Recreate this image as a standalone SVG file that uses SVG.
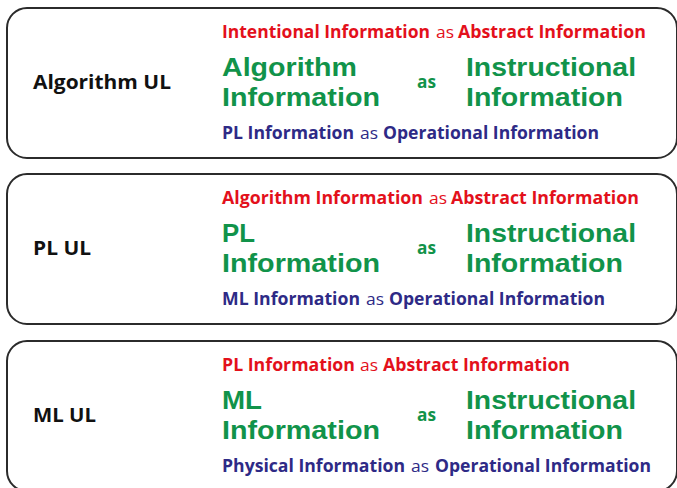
<svg xmlns="http://www.w3.org/2000/svg" width="677" height="488" viewBox="0 0 677 488">
<style>
.box{fill:#fff;stroke:#2b2b2b;stroke-width:2}
text{font-family:"Open Sans","Liberation Sans",sans-serif;font-weight:700}
.lbl{font-size:20px;fill:#111}
.r{font-size:17px;fill:#e3101b}
.b{font-size:17px;fill:#2e2a86}
.g{font-family:"Liberation Sans","Open Sans",sans-serif;font-size:26px;fill:#11934a}
.ga{font-size:18px;fill:#11934a}
.reg{font-weight:400}
</style>
<rect width="677" height="488" fill="#fff"/>
<g id="algorithm-ul">
<rect class="box" x="7" y="8" width="670" height="150" rx="20"/>
<text class="lbl" x="33" y="89" textLength="138" lengthAdjust="spacingAndGlyphs">Algorithm UL</text>
<text class="r" x="222" y="38" textLength="208" lengthAdjust="spacingAndGlyphs">Intentional Information</text>
<text class="r reg" x="436" y="38" textLength="18" lengthAdjust="spacingAndGlyphs">as</text>
<text class="r" x="458" y="38" textLength="188" lengthAdjust="spacingAndGlyphs">Abstract Information</text>
<text class="g" x="222" y="76" textLength="135" lengthAdjust="spacingAndGlyphs">Algorithm</text>
<text class="g" x="222" y="106" textLength="158" lengthAdjust="spacingAndGlyphs">Information</text>
<text class="ga" x="417" y="88" textLength="19" lengthAdjust="spacingAndGlyphs">as</text>
<text class="g" x="466" y="76" textLength="170" lengthAdjust="spacingAndGlyphs">Instructional</text>
<text class="g" x="466" y="106" textLength="157" lengthAdjust="spacingAndGlyphs">Information</text>
<text class="b" x="222" y="139" textLength="132" lengthAdjust="spacingAndGlyphs">PL Information</text>
<text class="b reg" x="360" y="139" textLength="18" lengthAdjust="spacingAndGlyphs">as</text>
<text class="b" x="383" y="139" textLength="216" lengthAdjust="spacingAndGlyphs">Operational Information</text>
</g>
<g id="pl-ul">
<rect class="box" x="7" y="174" width="670" height="150" rx="20"/>
<text class="lbl" x="33" y="255" textLength="58" lengthAdjust="spacingAndGlyphs">PL UL</text>
<text class="r" x="222" y="204" textLength="201" lengthAdjust="spacingAndGlyphs">Algorithm Information</text>
<text class="r reg" x="429" y="204" textLength="18" lengthAdjust="spacingAndGlyphs">as</text>
<text class="r" x="451" y="204" textLength="188" lengthAdjust="spacingAndGlyphs">Abstract Information</text>
<text class="g" x="222" y="242" textLength="33" lengthAdjust="spacingAndGlyphs">PL</text>
<text class="g" x="222" y="272" textLength="158" lengthAdjust="spacingAndGlyphs">Information</text>
<text class="ga" x="417" y="254" textLength="19" lengthAdjust="spacingAndGlyphs">as</text>
<text class="g" x="466" y="242" textLength="170" lengthAdjust="spacingAndGlyphs">Instructional</text>
<text class="g" x="466" y="272" textLength="157" lengthAdjust="spacingAndGlyphs">Information</text>
<text class="b" x="222" y="305" textLength="138" lengthAdjust="spacingAndGlyphs">ML Information</text>
<text class="b reg" x="366" y="305" textLength="18" lengthAdjust="spacingAndGlyphs">as</text>
<text class="b" x="389" y="305" textLength="216" lengthAdjust="spacingAndGlyphs">Operational Information</text>
</g>
<g id="ml-ul">
<rect class="box" x="7" y="341" width="670" height="150" rx="20"/>
<text class="lbl" x="33" y="422" textLength="63" lengthAdjust="spacingAndGlyphs">ML UL</text>
<text class="r" x="222" y="371" textLength="133" lengthAdjust="spacingAndGlyphs">PL Information</text>
<text class="r reg" x="360" y="371" textLength="18" lengthAdjust="spacingAndGlyphs">as</text>
<text class="r" x="383" y="371" textLength="187" lengthAdjust="spacingAndGlyphs">Abstract Information</text>
<text class="g" x="222" y="409" textLength="40" lengthAdjust="spacingAndGlyphs">ML</text>
<text class="g" x="222" y="439" textLength="158" lengthAdjust="spacingAndGlyphs">Information</text>
<text class="ga" x="417" y="421" textLength="19" lengthAdjust="spacingAndGlyphs">as</text>
<text class="g" x="466" y="409" textLength="170" lengthAdjust="spacingAndGlyphs">Instructional</text>
<text class="g" x="466" y="439" textLength="157" lengthAdjust="spacingAndGlyphs">Information</text>
<text class="b" x="222" y="472" textLength="183" lengthAdjust="spacingAndGlyphs">Physical Information</text>
<text class="b reg" x="411" y="472" textLength="18" lengthAdjust="spacingAndGlyphs">as</text>
<text class="b" x="435" y="472" textLength="216" lengthAdjust="spacingAndGlyphs">Operational Information</text>
</g>
<g id="connectors"></g>
</svg>
